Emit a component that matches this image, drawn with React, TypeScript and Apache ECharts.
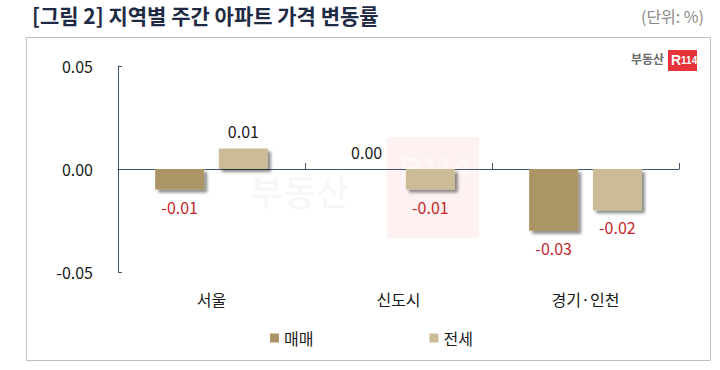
import React, { useEffect, useRef } from "react";
import * as echarts from "echarts";

const categories = ["서울", "신도시", "경기·인천"];
const seriesNames = ["매매", "전세"];
const saleValues = [-0.01, 0.0, -0.03];
const jeonseValues = [0.01, -0.01, -0.02];
const yMin = -0.05;
const yMax = 0.05;
const yInterval = 0.05;

const titleText = "[그림 2] 지역별 주간 아파트 가격 변동률";
const unitText = "(단위: %)";

const FONT = "'Noto Sans CJK KR', 'Noto Sans', sans-serif";
const COLORS = ["#AC9565", "#CBBB97"];

function makeData(values: number[]) {
  return values.map((v) => ({
    value: v,
    label: {
      show: true,
      position: v < 0 ? "bottom" : "top",
      distance: 9,
      color: v < 0 ? "#C3272E" : "#1a1a1a",
      fontSize: 16,
      fontFamily: FONT,
      formatter: (p: any) => Number(p.value).toFixed(2),
    },
  }));
}

export default function App() {
  const ref = useRef<HTMLDivElement>(null);
  useEffect(() => {
    if (!ref.current) return;
    const chart = echarts.init(ref.current, null, { renderer: "svg" });
    const barStyle = (c: string) => ({
      color: c,
      shadowBlur: 3,
      shadowColor: "rgba(0,0,0,0.45)",
      shadowOffsetX: 3,
      shadowOffsetY: 3,
    });
    chart.setOption({
      animation: false,
      backgroundColor: "#ffffff",
      textStyle: { fontFamily: FONT },
      grid: { left: 118, right: 41, top: 66, bottom: 98 },
      legend: {
        data: seriesNames,
        left: 265,
        top: 325,
        itemWidth: 9,
        itemHeight: 9,
        itemGap: 116,
        icon: "rect",
        textStyle: { fontSize: 16, color: "#1a1a1a", fontFamily: FONT },
      },
      xAxis: [
        {
          type: "category",
          data: categories,
          axisLine: { onZero: true, lineStyle: { color: "#44546A", width: 1 } },
          axisTick: { show: true, inside: true, length: 6, lineStyle: { color: "#44546A" } },
          axisLabel: { show: false },
          splitLine: { show: false },
        },
        {
          type: "category",
          data: categories,
          position: "bottom",
          axisLine: { show: false, onZero: false },
          axisTick: { show: false },
          axisLabel: { show: true, margin: 19, fontSize: 16, color: "#1a1a1a", fontFamily: FONT },
          splitLine: { show: false },
        },
      ],
      yAxis: {
        type: "value",
        min: yMin,
        max: yMax,
        interval: yInterval,
        axisLine: { show: true, lineStyle: { color: "#44546A", width: 1 } },
        axisTick: { show: true, inside: true, length: 4, lineStyle: { color: "#44546A" } },
        axisLabel: {
          margin: 25,
          fontSize: 16,
          color: "#1a1a1a",
          fontFamily: FONT,
          formatter: (v: number) => v.toFixed(2),
        },
        splitLine: { show: false },
      },
      series: [
        {
          name: seriesNames[0],
          type: "bar",
          xAxisIndex: 0,
          data: makeData(saleValues),
          barWidth: 49,
          barGap: "30%",
          itemStyle: barStyle(COLORS[0]),
          z: 3,
        },
        {
          name: seriesNames[1],
          type: "bar",
          xAxisIndex: 0,
          data: makeData(jeonseValues),
          barWidth: 49,
          barGap: "30%",
          itemStyle: barStyle(COLORS[1]),
          z: 3,
        },
      ],
      graphic: [
        {
          type: "rect",
          shape: { x: 26.5, y: 37.5, width: 684, height: 323 },
          style: { fill: "none", stroke: "#BFBFBF", lineWidth: 1 },
          z: 0,
        },
        {
          type: "text",
          left: 32,
          top: 4,
          style: { text: titleText, fontSize: 21, fontWeight: "bold", fill: "#1F2B44", fontFamily: FONT },
        },
        {
          type: "text",
          right: 16,
          top: 8,
          style: { text: unitText, fontSize: 16, fill: "#8A8A8A", fontFamily: FONT },
        },
        // top-right logo
        {
          type: "text",
          right: 56,
          top: 52,
          style: { text: "부동산", fontSize: 12, fontWeight: "bold", fill: "#6b6b6b", fontFamily: FONT },
        },
        {
          type: "rect",
          shape: { x: 668, y: 50, width: 29, height: 21 },
          style: { fill: "#E8323A" },
        },
        {
          type: "text",
          x: 671,
          y: 53,
          style: {
            text: "{a|R}{b|114}",
            rich: {
              a: { fontSize: 14, fontWeight: "bold", fill: "#ffffff", fontFamily: "Arial, sans-serif" },
              b: { fontSize: 10, fontWeight: "bold", fill: "#ffffff", fontFamily: "Arial, sans-serif" },
            },
          },
        },
        // watermark
        {
          type: "rect",
          shape: { x: 387, y: 137, width: 92, height: 101 },
          style: { fill: "rgba(232,60,70,0.07)" },
          z: 0,
        },
        {
          type: "text",
          x: 250,
          y: 172,
          style: { text: "부동산", fontSize: 36, fontWeight: "bold", fill: "rgba(0,0,0,0.03)", fontFamily: FONT },
          z: 0,
        },
        {
          type: "text",
          x: 400,
          y: 152,
          style: { text: "R114", fontSize: 30, fontWeight: "bold", fill: "rgba(255,255,255,0.5)", fontFamily: "Arial, sans-serif" },
          z: 0,
        },
      ],
    });
    return () => chart.dispose();
  }, []);
  return (
    <div
      ref={ref}
      style={{ position: "fixed", left: 0, top: 0, width: 720, height: 370 }}
    />
  );
}
